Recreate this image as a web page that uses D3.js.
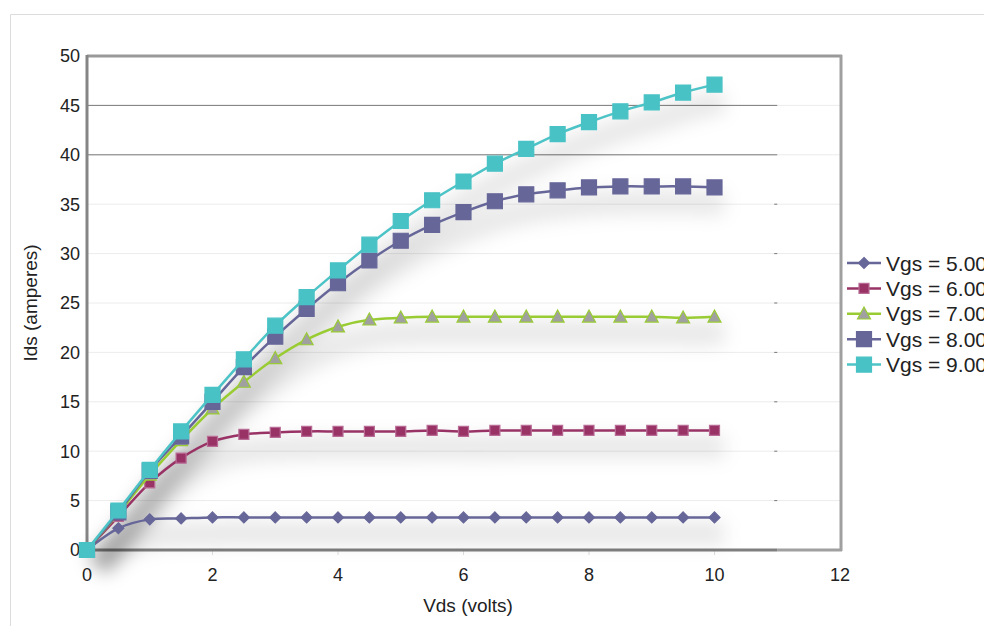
<!DOCTYPE html>
<html>
<head>
<meta charset="utf-8">
<script src="https://cdn.jsdelivr.net/npm/d3@7"></script>
<style>
  body { margin: 0; background: #fff; }
  svg { display: block; font-family: "Liberation Sans", Arial, sans-serif; }
</style>
</head>
<body>
<svg id="chart" width="984" height="626"></svg>
<script>
// Vds sample points (volts)
let vds = [0, 0.5, 1, 1.5, 2, 2.5, 3, 3.5, 4, 4.5, 5, 5.5, 6, 6.5, 7, 7.5, 8, 8.5, 9, 9.5, 10];

// Ids (amperes) for each gate voltage
let vgs5 = [0, 2.2, 3.1, 3.2, 3.3, 3.3, 3.3, 3.3, 3.3, 3.3, 3.3, 3.3, 3.3, 3.3, 3.3, 3.3, 3.3, 3.3, 3.3, 3.3, 3.3];
let vgs6 = [0, 3.4, 6.8, 9.3, 11.0, 11.7, 11.9, 12.0, 12.0, 12.0, 12.0, 12.1, 12.0, 12.1, 12.1, 12.1, 12.1, 12.1, 12.1, 12.1, 12.1];
let vgs7 = [0, 3.7, 7.6, 11.1, 14.3, 17.0, 19.4, 21.3, 22.6, 23.3, 23.5, 23.6, 23.6, 23.6, 23.6, 23.6, 23.6, 23.6, 23.6, 23.5, 23.6];
let vgs8 = [0, 3.8, 8.0, 11.5, 15.0, 18.5, 21.6, 24.4, 27.0, 29.3, 31.3, 32.9, 34.2, 35.3, 36.0, 36.4, 36.7, 36.8, 36.8, 36.8, 36.7];
let vgs9 = [0, 4.0, 8.1, 12.0, 15.7, 19.3, 22.7, 25.6, 28.3, 30.9, 33.3, 35.4, 37.3, 39.1, 40.6, 42.1, 43.3, 44.4, 45.3, 46.3, 47.1];

let seriesNames = ["Vgs = 5.00", "Vgs = 6.00", "Vgs = 7.00", "Vgs = 8.00", "Vgs = 9.00"];
let xTicks = [0, 2, 4, 6, 8, 10, 12];
let yTicks = [0, 5, 10, 15, 20, 25, 30, 35, 40, 45, 50];

let series = [
  { name: seriesNames[0], values: vgs5, line: "#666699", fill: "#666699", stroke: "#666699", shape: "diamond", size: 11 },
  { name: seriesNames[1], values: vgs6, line: "#993366", fill: "#993366", stroke: "#b86b95", shape: "square", size: 10 },
  { name: seriesNames[2], values: vgs7, line: "#99cc33", fill: "#a0a0a0", stroke: "#99cc33", shape: "triangle", size: 13 },
  { name: seriesNames[3], values: vgs8, line: "#666699", fill: "#666699", stroke: "#666699", shape: "square", size: 15 },
  { name: seriesNames[4], values: vgs9, line: "#4cc3c6", fill: "#48c2c5", stroke: "#48c2c5", shape: "square", size: 15 }
];

let svg = d3.select("#chart");

let margin = { top: 56, left: 87 };
let plotWidth = 753;   // 0..12 volts
let plotHeight = 494;  // 0..50 amps

let x = d3.scaleLinear().domain([0, 12]).range([0, plotWidth]);
let y = d3.scaleLinear().domain([0, 50]).range([plotHeight, 0]);

// outer frame
svg.append("path")
  .attr("d", "M10.5,640 V14.5 H1000")
  .attr("fill", "none")
  .attr("stroke", "#dcdcdc");

let defs = svg.append("defs");
defs.append("filter").attr("id", "shadow")
  .attr("x", "-20%").attr("y", "-20%").attr("width", "140%").attr("height", "140%")
  .append("feGaussianBlur").attr("stdDeviation", 9);

let plot = svg.append("g")
  .attr("transform", "translate(" + margin.left + "," + margin.top + ")");

// light gridlines
plot.append("g").selectAll("line")
  .data(yTicks.filter(d => d > 0 && d < 50))
  .join("line")
    .attr("x1", 0).attr("x2", plotWidth)
    .attr("y1", d => y(d)).attr("y2", d => y(d))
    .attr("stroke", "#ececec");

// darker upper gridlines (stop at x = 11)
plot.append("g").selectAll("line")
  .data([40, 45])
  .join("line")
    .attr("x1", 0).attr("x2", x(11))
    .attr("y1", d => y(d)).attr("y2", d => y(d))
    .attr("stroke", "#7a7a7a");

// small tick marks at x = 11
plot.append("g").selectAll("line")
  .data(yTicks.filter(d => d < 40))
  .join("line")
    .attr("x1", x(11) - 3).attr("x2", x(11))
    .attr("y1", d => y(d)).attr("y2", d => y(d))
    .attr("stroke", "#777");

// x ticks below axis
plot.append("g").selectAll("line")
  .data(xTicks.filter(d => d > 0 && d < 12))
  .join("line")
    .attr("x1", d => x(d)).attr("x2", d => x(d))
    .attr("y1", plotHeight).attr("y2", plotHeight + 5)
    .attr("stroke", "#dddddd");

// border of the plot area
plot.append("line").attr("x1", 0).attr("x2", plotWidth + 2).attr("y1", 0).attr("y2", 0)
  .attr("stroke", "#999").attr("stroke-width", 3);
plot.append("line").attr("x1", plotWidth + 1).attr("x2", plotWidth + 1).attr("y1", -1).attr("y2", plotHeight + 1)
  .attr("stroke", "#a0a0a0").attr("stroke-width", 3);
plot.append("line").attr("x1", x(11)).attr("x2", plotWidth + 2).attr("y1", plotHeight).attr("y2", plotHeight)
  .attr("stroke", "#a0a0a0").attr("stroke-width", 3);
plot.append("line").attr("x1", 0).attr("x2", x(11)).attr("y1", plotHeight).attr("y2", plotHeight)
  .attr("stroke", "#7f7f7f").attr("stroke-width", 3);
plot.append("line").attr("x1", 0).attr("x2", 0).attr("y1", -1).attr("y2", plotHeight + 1)
  .attr("stroke", "#858585").attr("stroke-width", 3);

// tick labels
plot.append("g").selectAll("text")
  .data(yTicks)
  .join("text")
    .attr("x", -7).attr("y", d => y(d))
    .attr("dy", "0.35em")
    .attr("text-anchor", "end")
    .attr("font-size", 18)
    .attr("fill", "#222")
    .text(d => d);

plot.append("g").selectAll("text")
  .data(xTicks)
  .join("text")
    .attr("x", d => x(d)).attr("y", plotHeight + 31)
    .attr("text-anchor", "middle")
    .attr("font-size", 18)
    .attr("fill", "#222")
    .text(d => d);

// axis titles
svg.append("text")
  .attr("transform", "translate(37,303) rotate(-90)")
  .attr("text-anchor", "middle")
  .attr("font-size", 19)
  .attr("fill", "#222")
  .text("Ids (amperes)");

svg.append("text")
  .attr("x", 468).attr("y", 612)
  .attr("text-anchor", "middle")
  .attr("font-size", 19)
  .attr("fill", "#222")
  .text("Vds (volts)");

let line = d3.line()
  .x((d, i) => x(vds[i]))
  .y(d => y(d))
  .curve(d3.curveCatmullRom.alpha(0.5));

// soft shadows under the curves
plot.append("g")
  .attr("filter", "url(#shadow)")
  .attr("transform", "translate(10,16)")
  .selectAll("path")
  .data(series)
  .join("path")
    .attr("d", d => line(d.values))
    .attr("fill", "none")
    .attr("stroke", "#000")
    .attr("stroke-opacity", 0.09)
    .attr("stroke-width", 24);

let symbolPath = function(shape, size) {
  let h = size / 2;
  if (shape === "square") return `M${-h},${-h}H${h}V${h}H${-h}Z`;
  if (shape === "diamond") return `M0,${-h}L${h},0L0,${h}L${-h},0Z`;
  return `M0,${-h * 1.05}L${h},${h * 0.8}L${-h},${h * 0.8}Z`;
};

let groups = plot.selectAll("g.series")
  .data(series)
  .join("g")
    .attr("class", "series");

groups.append("path")
  .attr("d", d => line(d.values))
  .attr("fill", "none")
  .attr("stroke", d => d.line)
  .attr("stroke-width", 2.5);

groups.each(function(s) {
  d3.select(this).selectAll("path.marker")
    .data(s.values)
    .join("path")
      .attr("class", "marker")
      .attr("transform", (d, i) => "translate(" + x(vds[i]) + "," + y(d) + ")")
      .attr("d", symbolPath(s.shape, s.size))
      .attr("fill", s.fill)
      .attr("stroke", s.stroke)
      .attr("stroke-width", 1.2);
});

// legend (text runs off the right edge, as in the original)
let legend = svg.append("g").attr("transform", "translate(847,263)");
let items = legend.selectAll("g")
  .data(series)
  .join("g")
    .attr("transform", (d, i) => "translate(0," + (i * 25.4) + ")");

items.append("line")
  .attr("x1", 0).attr("x2", 34)
  .attr("stroke", d => d.line)
  .attr("stroke-width", 2.5);

items.append("path")
  .attr("transform", "translate(17,0)")
  .attr("d", d => symbolPath(d.shape, d.size))
  .attr("fill", d => d.fill)
  .attr("stroke", d => d.stroke)
  .attr("stroke-width", 1.2);

items.append("text")
  .attr("x", 39).attr("dy", "0.36em")
  .attr("font-size", 21)
  .attr("fill", "#222")
  .text(d => d.name);
</script>
</body>
</html>
